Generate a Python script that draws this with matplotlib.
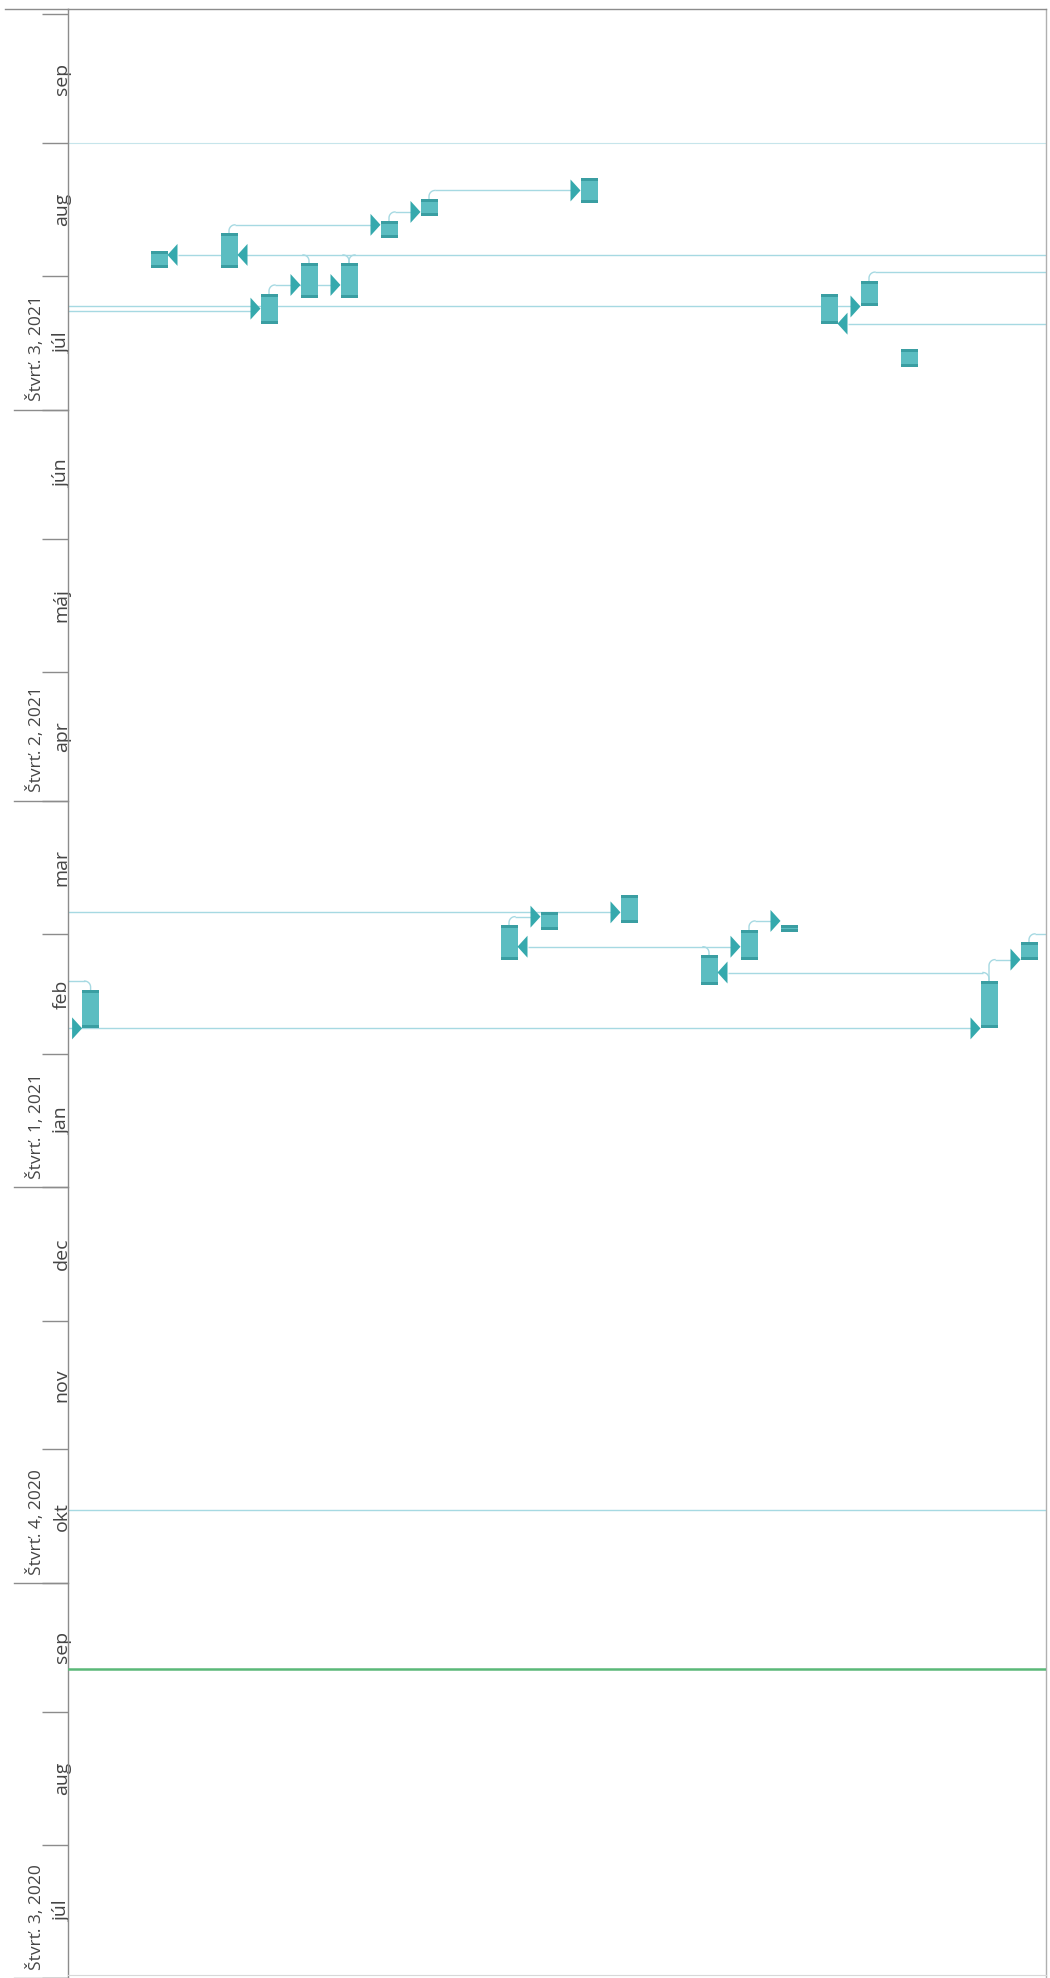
import matplotlib
matplotlib.use("Agg")
import numpy as np
import pandas as pd
import matplotlib.pyplot as plt
import matplotlib.dates as mdates
from matplotlib.patches import Rectangle, Polygon
from matplotlib.lines import Line2D

# ---- data (time runs upwards) ----
task_names = ["T", "A", "B", "F", "H", "I", "C", "D", "N", "L",
              "E", "M", "O", "P", "Q", "G", "J", "K", "R", "S"]
task_lanes = [0.54, 2.25, 4, 5, 6, 7, 8, 9, 11, 12,
              13, 14, 16, 17, 18, 19, 20, 21, 23, 24]
task_start = ["2021-02-07", "2021-08-03", "2021-08-03", "2021-07-21", "2021-07-27",
              "2021-07-27", "2021-08-10", "2021-08-15", "2021-02-23", "2021-03-02",
              "2021-08-18", "2021-03-03 12:00", "2021-02-17", "2021-02-23", "2021-03-01 10:00",
              "2021-07-21", "2021-07-25", "2021-07-11", "2021-02-07", "2021-02-23"]
task_end = ["2021-02-16", "2021-08-07", "2021-08-11", "2021-07-28", "2021-08-04",
            "2021-08-04", "2021-08-14", "2021-08-19", "2021-03-03", "2021-03-06",
            "2021-08-24", "2021-03-10", "2021-02-24", "2021-03-02", "2021-03-03",
            "2021-07-28", "2021-07-31", "2021-07-15", "2021-02-18", "2021-02-27"]

# arrowheads: task, date, direction (">" enters from left, "<" enters from right)
arrow_task = ["A", "B", "C", "D", "E", "F", "H", "I", "J", "G",
              "T", "R", "L", "M", "N", "O", "P", "Q", "S"]
arrow_date = ["2021-08-06", "2021-08-06", "2021-08-13", "2021-08-16", "2021-08-21",
              "2021-07-24 12:00", "2021-07-30", "2021-07-30", "2021-07-25", "2021-07-21",
              "2021-02-07", "2021-02-07", "2021-03-05", "2021-03-06", "2021-02-26",
              "2021-02-20", "2021-02-26", "2021-03-04", "2021-02-23"]
arrow_dir = ["<", "<", ">", ">", ">", ">", ">", ">", ">", "<",
             ">", ">", ">", ">", "<", "<", ">", ">", ">"]

# link lines: date level, from, to  ("axis"/"edge", ">X"/"<X" arrow base, "^X" elbow)
link_date = ["2021-08-06", "2021-08-13", "2021-08-16", "2021-08-21", "2021-07-30",
             "2021-07-25", "2021-07-24", "2021-08-02", "2021-07-21", "2021-03-06",
             "2021-03-05", "2021-02-26", "2021-03-04", "2021-02-20", "2021-02-23",
             "2021-03-01", "2021-02-07", "2021-02-18", "2020-10-18"]
link_from = ["<A", "^B", "^C", "^D", "^F", "axis", "axis", "^J", "<G", "axis",
             "^N", "<N", "^P", "<O", "^R", "^S", "axis", "^T", "axis"]
link_to = ["edge", ">C", ">D", ">E", ">I", ">J", ">F", "edge", "edge", ">M",
           ">L", ">P", ">Q", "^R", ">S", "edge", ">R", "axis", "edge"]

# rounded elbows from a bar's finish up to a link level
elbow_task = ["B", "C", "D", "F", "H", "I", "I", "J", "N", "O", "P", "R", "R", "S", "T"]
elbow_date = ["2021-08-13", "2021-08-16", "2021-08-21", "2021-07-30", "2021-08-06",
              "2021-08-06", "2021-08-06", "2021-08-02", "2021-03-05", "2021-02-26",
              "2021-03-04", "2021-02-20", "2021-02-23", "2021-03-01", "2021-02-18"]
elbow_side = [1, 1, 1, 1, -1, -1, 1, 1, 1, -1, 1, -1, 1, 1, -1]

status_date = "2020-09-11"
sep_line = "2021-09-01"

month_labels = ["júl", "aug", "sep", "okt", "nov", "dec", "jan", "feb",
                "mar", "apr", "máj", "jún", "júl", "aug", "sep"]
quarter_starts = ["2020-07-01", "2020-10-01", "2021-01-01", "2021-04-01", "2021-07-01"]
quarter_labels = ["Štvrť. 3, 2020", "Štvrť. 4, 2020", "Štvrť. 1, 2021",
                  "Štvrť. 2, 2021", "Štvrť. 3, 2021"]

# ---- styling ----
BAR = "#5bbdc1"
CAP = "#3a9ea2"
ARROW = "#35a9ad"
LINK = "#a6d9e2"
GREEN = "#5bb878"
AXIS = "#8c8c8c"
TEXT = "#454545"

plt.rcParams["font.family"] = ["Open Sans", "DejaVu Sans"]

W, H = 1050, 1978
fig = plt.figure(figsize=(W / 100, H / 100), dpi=100)
ax_left, ax_right, ax_top = 68, 1046, 9
ax = fig.add_axes([ax_left / W, 0, (ax_right - ax_left) / W, (H - ax_top) / H])

px_per_lane = 40.0
px_per_day = 4.297
x0 = (ax_left - 69) / px_per_lane
x1 = (ax_right - 69) / px_per_lane
y0 = mdates.date2num(pd.Timestamp("2020-07-01"))
y1 = y0 + (H - ax_top) / px_per_day
ax.set_xlim(x0, x1)
ax.set_ylim(y0, y1)

d = lambda s: mdates.date2num(pd.Timestamp(s))
lane = dict(zip(task_names, task_lanes))

half = 8.5 / px_per_lane
tri_w = 10 / px_per_lane
tri_h = 11 / px_per_day
rad_x = 6 / px_per_lane
rad_y = 6 / px_per_day


def resolve(tok, other):
    if tok == "axis":
        return x0
    if tok == "edge":
        return x1
    t = tok[1:]
    if tok[0] == ">":
        return lane[t] - half - tri_w
    if tok[0] == "<":
        return lane[t] + half + tri_w
    return lane[t] + rad_x * np.sign(other - lane[t])


def rough(tok):
    if tok in ("axis", "edge"):
        return x0 if tok == "axis" else x1
    return lane[tok[1:]]


# link lines
for ld, lf, lt in zip(link_date, link_from, link_to):
    xa = resolve(lf, rough(lt))
    xb = resolve(lt, rough(lf))
    ax.plot([xa, xb], [d(ld)] * 2, color=LINK, lw=1.0, zorder=2, solid_capstyle="butt")

# elbows
t = np.linspace(0, np.pi / 2, 20)
end_of = dict(zip(task_names, task_end))
for et, ed, es in zip(elbow_task, elbow_date, elbow_side):
    xb = lane[et]
    ytop = d(end_of[et])
    lvl = d(ed)
    cx = xb + es * rad_x
    xs = list(cx - es * rad_x * np.cos(t))
    ys = list(lvl - rad_y + rad_y * np.sin(t))
    ax.plot([xb] + xs, [ytop] + ys, color=LINK, lw=1.0, zorder=2)

# other horizontal lines
ax.axhline(d(sep_line), color="#c6e5eb", lw=0.8, zorder=1)
ax.axhline(d(status_date), color=GREEN, lw=1.8, zorder=3)

# bars
cap = 3 / px_per_day
for nm, s, e in zip(task_names, task_start, task_end):
    xs, ys, ye = lane[nm] - half, d(s), d(e)
    ax.add_patch(Rectangle((xs, ys), 2 * half, ye - ys, facecolor=BAR, edgecolor="none", zorder=4))
    c = min(cap, (ye - ys) / 2)
    ax.add_patch(Rectangle((xs, ys), 2 * half, c, facecolor=CAP, edgecolor="none", zorder=5))
    ax.add_patch(Rectangle((xs, ye - c), 2 * half, c, facecolor=CAP, edgecolor="none", zorder=5))

# arrowheads
for at, ad, adir in zip(arrow_task, arrow_date, arrow_dir):
    yc = d(ad)
    if adir == ">":
        tip = lane[at] - half
        base = tip - tri_w
    else:
        tip = lane[at] + half
        base = tip + tri_w
    ax.add_patch(Polygon([(tip, yc), (base, yc + tri_h), (base, yc - tri_h)],
                         closed=True, facecolor=ARROW, edgecolor="none", zorder=6))

# time axis on the left
month_starts = pd.date_range("2020-07-01", "2021-10-01", freq="MS")
ax.set_yticks([d(m) for m in month_starts])
ax.set_yticklabels([])
mids = [d(month_starts[i]) + (d(month_starts[i + 1]) - d(month_starts[i])) / 2
        for i in range(len(month_labels))]
ax.set_yticks(mids, minor=True)
ax.set_yticklabels(month_labels, minor=True)
ax.tick_params(axis="y", which="major", length=26 * 0.72, width=1, color=AXIS, direction="out")
ax.tick_params(axis="y", which="minor", length=0, pad=-2.0, labelsize=14,
               labelcolor=TEXT, labelrotation=90)
for lab in ax.get_yticklabels(minor=True):
    lab.set_va("center")
ax.set_xticks([])

ytr = ax.get_yaxis_transform()
for qs, ql in zip(quarter_starts, quarter_labels):
    ax.plot([(14 - ax_left) / (ax_right - ax_left), 0], [d(qs)] * 2, color=AXIS,
            lw=1, transform=ytr, clip_on=False, zorder=1)
    ax.text((45 - ax_left) / (ax_right - ax_left), d(qs) + 1.9, ql, rotation=90,
            ha="right", va="bottom", fontsize=12.5, color=TEXT, transform=ytr, clip_on=False)

for side in ("left", "top", "right"):
    ax.spines[side].set_color(AXIS)
    ax.spines[side].set_linewidth(1)
ax.spines["right"].set_color("#b0b0b0")
ax.spines["bottom"].set_visible(False)
fig.add_artist(Line2D([5 / W, ax_left / W], [1 - ax_top / H] * 2, color=AXIS, lw=1))
fig.add_artist(Line2D([ax_left / W, ax_right / W], [3 / H] * 2, color="#d8d8d8", lw=0.8))

fig.savefig("out.png", dpi=100)
